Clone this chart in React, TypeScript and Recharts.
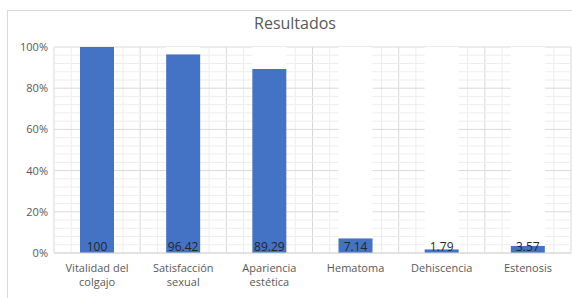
import React from "react";
import {
  Bar,
  BarChart,
  CartesianGrid,
  LabelList,
  ReferenceLine,
  XAxis,
  YAxis,
} from "recharts";

const categories = [
  "Vitalidad del\ncolgajo",
  "Satisfacción\nsexual",
  "Apariencia\nestética",
  "Hematoma",
  "Dehiscencia",
  "Estenosis",
];
const percentages = [100, 96.42, 89.29, 7.14, 1.79, 3.57];
const yTicks = [0, 20, 40, 60, 80, 100];
const yMinorTicks = [4, 8, 12, 16, 24, 28, 32, 36, 44, 48, 52, 56, 64, 68, 72, 76, 84, 88, 92, 96];
// vertical grid: 5 divisions per category (every 5th is a category boundary)
const xGridSteps = [0, 1, 2, 3, 4, 5, 6, 7, 8, 9, 10, 11, 12, 13, 14, 15, 16, 17, 18, 19, 20, 21, 22, 23, 24, 25, 26, 27, 28, 29, 30];

const data = categories.map((name, i) => ({
  name,
  value: percentages[i],
  rest: 100 - percentages[i],
}));

const TEXT = "#595959";
const MAJOR = "#d9d9d9";
const MINOR = "#ededed";

function CategoryTick({ x, y, payload }: any) {
  const lines = String(payload.value).split("\n");
  return (
    <text x={x} y={y} textAnchor="middle" fill={TEXT} fontSize={11}>
      {lines.map((l, i) => (
        <tspan key={i} x={x} dy={i === 0 ? 11 : 14}>
          {l}
        </tspan>
      ))}
    </text>
  );
}

function GridLine(p: any) {
  const major = typeof p.index === "number" ? p.index % 5 === 0 : false;
  return (
    <line
      key={p.key}
      x1={p.x1}
      y1={p.y1}
      x2={p.x2}
      y2={p.y2}
      stroke={major ? MAJOR : MINOR}
      strokeWidth={1}
      fill="none"
    />
  );
}

export default function App() {
  return (
    <div
      style={{
        position: "absolute",
        left: 0,
        top: 0,
        width: 572,
        height: 298,
        background: "#fff",
        overflow: "hidden",
        fontFamily: "'Open Sans', sans-serif",
      }}
    >
      <div
        style={{
          position: "absolute",
          left: 7,
          top: 10,
          width: 600,
          height: 320,
          border: "1px solid #d9d9d9",
        }}
      />
      <div
        style={{
          position: "absolute",
          left: 195,
          width: 200,
          top: 12,
          textAlign: "center",
          fontSize: 16,
          color: TEXT,
        }}
      >
        Resultados
      </div>
      <div style={{ position: "absolute", left: 0, top: 0 }}>
        <BarChart
          width={572}
          height={298}
          data={data}
          margin={{ top: 47, right: 1, bottom: 0, left: 0 }}
        >
          <CartesianGrid
            xAxisId="cat"
            yAxisId="pct"
            horizontal={false}
            verticalCoordinatesGenerator={({ offset }: any) =>
              xGridSteps.map((t) => offset.left + (offset.width * t) / 30)
            }
            vertical={GridLine}
          />
          <YAxis
            yAxisId="pct"
            orientation="left"
            domain={[0, 100]}
            ticks={yTicks}
            width={54}
            tickLine={false}
            axisLine={false}
            tickMargin={0}
            tick={{ fontSize: 11, fill: TEXT }}
            tickFormatter={(v) => `${v}%`}
          />
          <XAxis
            xAxisId="cat"
            dataKey="name"
            height={45}
            tickLine={false}
            axisLine={{ stroke: MAJOR }}
            tick={<CategoryTick />}
            interval={0}
          />
          {yMinorTicks.map((v) => (
            <ReferenceLine key={`hm${v}`} xAxisId="cat" yAxisId="pct" y={v} stroke={MINOR} zIndex={-1} />
          ))}
          {yTicks.map((v) => (
            <ReferenceLine key={`h${v}`} xAxisId="cat" yAxisId="pct" y={v} stroke={MAJOR} zIndex={-1} />
          ))}
          <Bar
            xAxisId="cat"
            yAxisId="pct"
            dataKey="value"
            stackId="a"
            fill="#4472C4"
            barSize={34}
            isAnimationActive={false}
          >
            <LabelList
              dataKey="value"
              position="insideBottom"
              offset={2}
              fill="#262626"
              fontSize={12}
            />
          </Bar>
          <Bar
            xAxisId="cat"
            yAxisId="pct"
            dataKey="rest"
            stackId="a"
            fill="#ffffff"
            barSize={34}
            isAnimationActive={false}
          />
        </BarChart>
      </div>
    </div>
  );
}
